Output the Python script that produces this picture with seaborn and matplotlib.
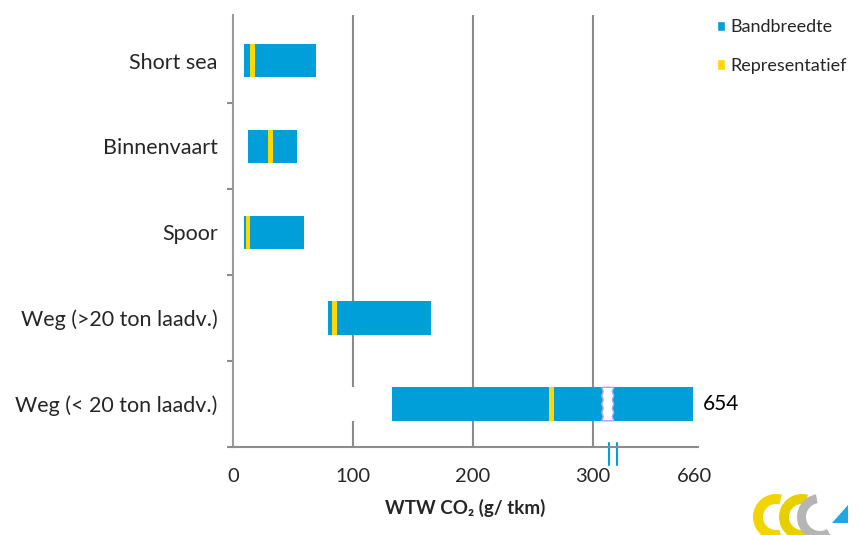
import numpy as np
import matplotlib
matplotlib.use('Agg')
import matplotlib.pyplot as plt
import seaborn as sns
from matplotlib.patches import Patch, Polygon, Wedge

# data (g CO2 / tkm, well-to-wheel)
categories = ['Short sea', 'Binnenvaart', 'Spoor', 'Weg (>20 ton laadv.)', 'Weg (< 20 ton laadv.)']
low = [9, 12.5, 9, 79, 133]
high = [69, 53, 59, 165, 654]
rep = [16, 31, 12.5, 85, 266]
tick_values = [0, 100, 200, 300, 660]
legend_labels = ['Bandbreedte', 'Representatief']

blue = '#009FDA'
yellow = '#FFD800'
grey = '#8C8C8C'

# broken axis: linear up to 320, compressed beyond
brk, end_real, end_axis = 320, 660, 385


def to_axis(v):
    v = np.asarray(v, dtype=float)
    return np.where(v <= brk, v, brk + (v - brk) * (end_axis - brk) / (end_real - brk))


sns.set_style('white')
plt.rcParams['font.family'] = ['Lato', 'DejaVu Sans']

fig = plt.figure(figsize=(8.61, 5.35), dpi=100)
ax = fig.add_axes([233 / 861, 88 / 535, 465 / 861, 432 / 535])

rep_w = 4
hi = to_axis(high)
layers = [(hi, blue), (to_axis(np.array(rep) + rep_w / 2), yellow),
          (to_axis(np.array(rep) - rep_w / 2), blue), (to_axis(low), 'white')]
for vals, col in layers:
    sns.barplot(x=vals, y=categories, orient='h', color=col, saturation=1,
                width=0.39, linewidth=0, ax=ax, zorder=2)

# break in the longest bar
i = len(categories) - 1
x0, x1 = 307.7, 317.7
ys = np.linspace(i - 0.195, i + 0.195, 9)
zz = np.array([0, 1.2] * 4 + [0])
poly = np.vstack([np.column_stack([x0 + zz, ys]), np.column_stack([x1 - zz, ys[::-1]])])
ax.add_patch(Polygon(poly, closed=True, facecolor='white', edgecolor='#A9A6F5', lw=1, zorder=3))

ax.annotate(f'{high[i]:g}', (hi[i], i), xytext=(7, 0), textcoords='offset points',
            va='center', ha='left', fontsize=15, color='black')

ax.set_xlim(0, 388)
ax.set_ylim(4.47, -0.53)
ax.set_xticks(to_axis(tick_values))
ax.set_xticklabels([str(t) for t in tick_values], fontsize=14.5)
ax.set_yticks(range(len(categories)))
ax.set_yticklabels(categories, fontsize=15.5)
ax.set_yticks(np.arange(0.5, len(categories), 1), minor=True)
ax.tick_params(axis='y', which='major', length=0, pad=11)
ax.tick_params(axis='y', which='minor', length=4.5, width=1.5, color=grey, direction='out', left=True)
ax.tick_params(axis='x', length=0, pad=15)
ax.set_xlabel('WTW CO₂ (g/ tkm)', fontsize=13.5, fontweight='bold', labelpad=10)
ax.set_ylabel('')

ax.xaxis.grid(True, color=grey, lw=1.5, zorder=0)
ax.set_axisbelow(True)
gl = ax.get_xgridlines()
gl[0].set_visible(False)
gl[-1].set_visible(False)

sns.despine(ax=ax)
for s in ['left', 'bottom']:
    ax.spines[s].set_color(grey)
    ax.spines[s].set_linewidth(1.5)
ax.spines['left'].set_color('#9A9A9A')

# axis break marks
for xb in [313.5, 320]:
    ax.plot([xb, xb], [0.009, -0.042], color='#00A0E0', lw=1.5,
            transform=ax.get_xaxis_transform(), clip_on=False)

handles = [Patch(facecolor=blue), Patch(facecolor=yellow)]
fig.legend(handles, legend_labels, loc='upper left', bbox_to_anchor=(701 / 861, 1 - 3 / 535),
           frameon=False, fontsize=13, handlelength=0.45, handleheight=0.5,
           handletextpad=0.3, labelspacing=1.25)

# small logo, bottom right
lax = fig.add_axes([752 / 861, 0, 100 / 861, 50 / 535])
lax.set_xlim(0, 100)
lax.set_ylim(0, 50)
lax.set_aspect('equal')
lax.axis('off')
lax.add_patch(Wedge((24, 18), 23, 75, 285, width=10, facecolor='#F2D400', lw=0))
lax.add_patch(Wedge((50, 18), 23, 75, 285, width=10, facecolor='#E8D000', lw=0))
lax.add_patch(Wedge((68, 18), 23, 100, 300, width=9, facecolor='#B5B5B5', lw=0))
lax.add_patch(Polygon([[80, 12], [96, 12], [96, 30]], closed=True, facecolor='#1FA8E0', lw=0))

fig.savefig('out.png', dpi=100)
